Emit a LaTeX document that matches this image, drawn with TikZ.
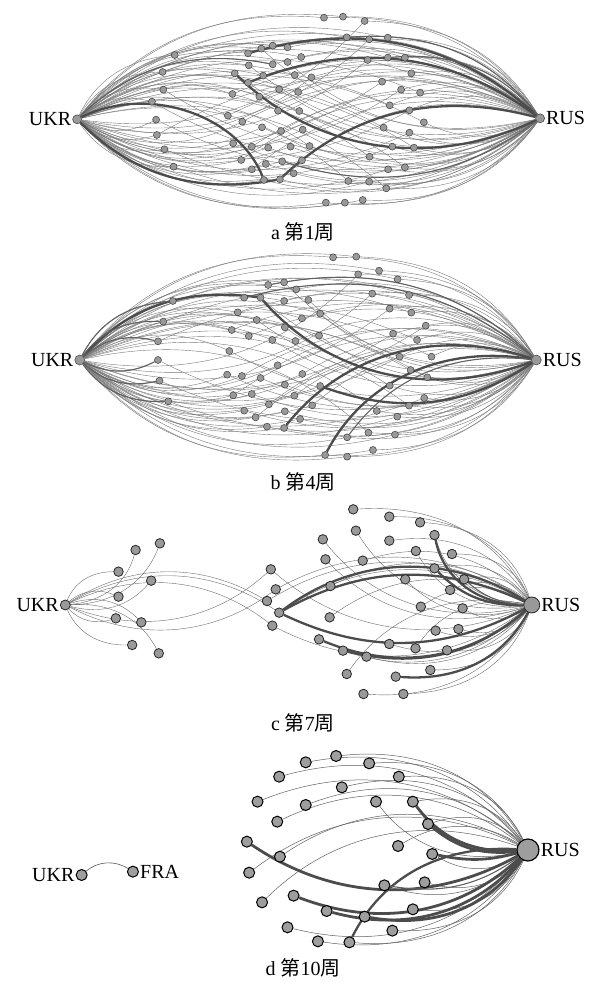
\documentclass[tikz,border=0pt]{standalone}
\usepackage{fontspec}
\setmainfont{Liberation Serif}
\newfontfamily\cjk{Noto Sans CJK SC}
\usetikzlibrary{backgrounds}
\tikzset{
  nd/.style={circle,draw=black!75,fill=black!40,line width=0.5pt,inner sep=0pt,minimum size=#1},
  nd/.default=7pt,
  ndc/.style={circle,draw=black!85,fill=black!40,line width=0.8pt,inner sep=0pt,minimum size=#1},
  ndc/.default=9.5pt,
  ndd/.style={circle,draw=black,fill=black!38,line width=1pt,inner sep=0pt,minimum size=#1},
  ndd/.default=11pt,
  ed/.style={draw=black!52,line width=0.4pt},
  med/.style={draw=black!62,line width=1.1pt},
  ted/.style={draw=black!70,line width=2.3pt},
  lab/.style={font=\fontsize{20}{20}\selectfont,inner sep=1pt},
  captxt/.style={font=\fontsize{20}{20}\selectfont,inner sep=0pt},
}
\def\BA{30}
\def\LA{853/53/1/1,903/50/1/1,960/63/-1/1,913/112/1/1,972/118/-1/1,1021/113/1/1,653/160/1/1,688/146/1/-1,718/137/1/1,757/142/1/1,460/165/1/1,655/196/1/-1,718/193/1/1,757/186/1/-1,793/171/1/1,968/180/-1/1,1021/173/1/1,1066/173/1/1,428/216/1/1,618/220/1/-1,693/227/1/1,776/225/1/1,820/232/-1/1,1083/220/1/1,1006/245/-1/1,653/248/1/1,430/269/1/-1,612/282/1/1,735/268/1/-1,785/276/1/1,1056/269/-1/1,1106/278/1/1,683/290/1/1,400/305/1/-1,1026/316/1/1,1078/331/-1/1,732/332/1/1,788/333/1/-1,600/347/1/1,411/359/1/1,1116/367/-1/1,638/365/1/-1,690/382/1/1,740/393/1/-1,797/389/1/1,1010/383/-1/1,1078/398/1/1,413/405/1/-1,614/430/1/1,663/440/1/-1,706/443/1/1,765/440/1/1,815/438/-1/1,1033/440/1/1,1090/443/-1/1,433/448/1/1,973/470/-1/1,635/480/1/-1,743/484/1/1,795/481/1/-1,700/492/1/1,457/500/1/1,663/508/1/-1,1022/508/1/1,1066/502/-1/1,773/520/1/1,695/540/1/1,737/538/1/1,917/543/-1/1,972/545/1/1,1017/565/-1/1,858/608/1/1,908/608/1/1,955/600/1/1}
\def\LB{877/52/1/1,938/50/1/1,943/103/-1/1,998/92/1/1,1047/118/1/1,706/135/1/1,748/127/1/-1,780/148/1/1,980/161/-1/1,1077/165/1/1,455/183/1/1,643/173/1/1,686/173/1/-1,748/183/1/1,812/180/1/-1,626/217/1/1,1026/206/-1/1,1083/218/1/1,430/245/1/1,676/240/1/-1,795/235/1/1,843/221/1/-1,610/270/1/1,750/262/1/-1,1121/257/-1/1,655/288/1/1,717/300/1/-1,778/303/1/1,840/287/1/-1,1035/281/-1/1,1098/300/1/1,416/304/1/1,604/333/1/-1,1052/350/-1/1,1136/350/1/1,416/360/1/1,731/376/1/-1,1081/390/-1/1,598/404/1/1,637/408/1/-1,686/414/1/1,796/402/1/-1,1125/412/-1/1,420/422/1/1,750/434/1/1,843/438/1/1,1026/437/-1/1,614/466/1/-1,663/462/1/1,775/467/1/-1,1117/474/1/1,443/484/1/1,708/493/1/-1,750/514/1/1,822/496/1/-1,1077/497/-1/1,643/512/1/1,673/532/1/-1,790/537/1/1,992/513/-1/1,1046/530/1/1,703/560/1/1,748/564/1/1,914/592/1/1,970/578/-1/1,1040/584/1/1,856/645/1/1,914/650/1/1,982/630/1/1}
\def\LC{357/180/-1/0,421/160/-1/0,312/245/1/0,398/272/-1/0,312/320/1/0,305/385/1/0,372/397/-1/0,348/465/1/0,418/490/-1/0,713/238/-1/-1,726/298/-1/1,703/333/1/1,735/368/-1/-1,717/407/-1/1,930/58/0/1,1025/80/0/1,1106/97/0/1,937/122/0/-1,1144/135/0/-1,850/148/0/-1,1025/152/0/1,1095/183/0/-1,1190/192/0/1,857/208/0/-1,955/212/0/1,1144/235/0/1,1067/268/0/-1,1222/268/0/1,870/288/0/1,1185/300/0/1,1108/350/0/-1,1218/355/0/1,868/382/0/-1,1147/422/0/1,1207/417/0/1,840/448/0/1,1025/462/0/1,1094/475/0/-1,1177/481/0/1,903/482/0/1,965/500/0/1,1133/540/0/1,913/552/0/-1,1042/560/0/1,957/612/0/1,1062/612/0/1}
\def\LD{735/140/1,805/97/1,885/78/1,972/100/1,1050/140/1,678/215/1,730/275/1,805/225/1,900/172/1,990/215/-1,1087/215/1,1127/282/1,650/335/-1,737/380/-1,656/428/-1,1048/348/1,1138/372/1,1012/466/1,1118/457/1,690/517/-1,773/497/1,860/543/1,960/560/1,1087/538/1,757/592/1,837/634/1,920/637/1,1033/602/1}
\begin{document}
\begin{tikzpicture}[x=1pt,y=-1pt]
\useasboundingbox (0,0) rectangle (596,982);
% ---------------- panel a
\begin{scope}[xscale=0.3798,yscale=0.3333]
\node[nd=9pt] (aU) at (203,358) {};
\node[nd=9pt] (aR) at (1422,355) {};
\foreach \x/\y/\u/\r [count=\i] in \LA {\node[nd] (a\i) at (\x,\y) {};}
\begin{pgfonlayer}{background}
\foreach \x/\y/\u/\r [count=\i] in \LA {
  \pgfmathsetmacro\bu{(1-2*(\y<358))*\BA*\u}
  \pgfmathsetmacro\br{(2*(\y<358)-1)*\BA*\r}
  \ifnum\u=0 \else\draw[ed] (a\i) to[bend left=\bu] (aU);\fi
  \ifnum\r=0 \else\draw[ed] (a\i) to[bend left=\br] (aR);\fi
}
\draw[ted] (a67) to[bend left=-50] (aU);
\draw[ted] (a68) to[bend left=30] (aU);
\draw[ted] (a7) to[bend left=32] (aR);
\draw[ted] (a26) to[bend left=32] (aR);
\draw[ted] (a68) to[bend left=32] (aR);
\draw[ted] (a20) to[bend left=-38] (aR);
\draw[med] (a4) to[bend left=30] (aR);
\draw[med] (a17) to[bend left=30] (aR);
\draw[med] (a59) to[bend left=-30] (aR);
\draw[med] (a13) to[bend left=-30] (aU);
\end{pgfonlayer}
\node[lab,anchor=east] (aUl) at (aU.west) {UKR};
\node[lab,anchor=west] (aRl) at (aR.east) {RUS};
\end{scope}
\node[captxt] (capa) at (303,232) {a~{\cjk 第}1{\cjk 周}};
% ---------------- panel b
\begin{scope}[shift={(0,240)},xscale=0.3798,yscale=0.3333]
\node[nd=10pt] (bU) at (210,360) {};
\node[nd=10pt] (bR) at (1412,360) {};
\foreach \x/\y/\u/\r [count=\i] in \LB {\node[nd] (b\i) at (\x,\y) {};}
\begin{pgfonlayer}{background}
\foreach \x/\y/\u/\r [count=\i] in \LB {
  \pgfmathsetmacro\bu{(1-2*(\y<360))*\BA*\u}
  \pgfmathsetmacro\br{(2*(\y<360)-1)*\BA*\r}
  \ifnum\u=0 \else\draw[ed] (b\i) to[bend left=\bu] (bU);\fi
  \ifnum\r=0 \else\draw[ed] (b\i) to[bend left=\br] (bR);\fi
}
\draw[ted] (b13) to[bend left=-38] (bR);
\draw[ted] (b13) to[bend left=-30] (bU);
\draw[ted] (b63) to[bend left=38] (bR);
\draw[ted] (b67) to[bend left=38] (bR);
\draw[med] (b64) to[bend left=32] (bR);
\draw[ted] (b46) to[bend left=-30] (bR);
\draw[med] (b11) to[bend left=-30] (bU);
\draw[med] (b19) to[bend left=-30] (bU);
\draw[med] (b32) to[bend left=-30] (bU);
\draw[med] (b44) to[bend left=30] (bU);
\draw[med] (b52) to[bend left=30] (bU);
\draw[med] (b36) to[bend left=30] (bU);
\draw[med] (b12) to[bend left=30] (bR);
\draw[med] (b6) to[bend left=30] (bR);
\end{pgfonlayer}
\node[lab,anchor=east] (bUl) at (bU.west) {UKR};
\node[lab,anchor=west] (bRl) at (bR.east) {RUS};
\end{scope}
\node[captxt] (capb) at (303,482) {b~{\cjk 第}4{\cjk 周}};
% ---------------- panel c
\begin{scope}[shift={(0,490)},xscale=0.3798,yscale=0.3333]
\node[ndc=10pt] (cU) at (172,345) {};
\node[ndc=16pt] (cR) at (1400,345) {};
\foreach \x/\y/\u/\r [count=\i] in \LC {\node[ndc] (c\i) at (\x,\y) {};}
\begin{pgfonlayer}{background}
\foreach \x/\y/\u/\r [count=\i] in \LC {
  \pgfmathsetmacro\bu{(1-2*(\y<345))*35*\u}
  \pgfmathsetmacro\br{(2*(\y<345)-1)*35*\r}
  \ifnum\u=0 \else\draw[ed,draw=black!58] (c\i) to[bend left=\bu] (cU);\fi
  \ifnum\r=0 \else\draw[ed,draw=black!58] (c\i) to[bend left=\br] (cR);\fi
}
\draw[ted] (c19) to[bend left=-40] (cR);
\draw[ted] (c26) to[bend left=-25] (cR);
\draw[ted] (c13) to[bend left=30] (cR);
\draw[ted] (c13) to[bend left=38] (cR);
\draw[ted] (c13) to[bend left=-30] (cR);
\draw[ted] (c36) to[bend left=-35] (cR);
\draw[ted] (c40) to[bend left=-30] (cR);
\draw[ted] (c44) to[bend left=-35] (cR);
\draw[med] (c28) to[bend left=-20] (cR);
\end{pgfonlayer}
\node[lab,anchor=east] (cUl) at (cU.west) {UKR};
\node[lab,anchor=west] (cRl) at (cR.east) {RUS};
\end{scope}
\node[captxt] (capc) at (303,723) {c~{\cjk 第}7{\cjk 周}};
% ---------------- panel d
\begin{scope}[shift={(0,730)},xscale=0.3798,yscale=0.3333]
\node[ndd=22pt,line width=1.2pt] (dR) at (1390,360) {};
\node[ndd] (dU) at (215,435) {};
\node[ndd] (dF) at (350,425) {};
\foreach \x/\y/\r [count=\i] in \LD {\node[ndd] (d\i) at (\x,\y) {};}
\begin{pgfonlayer}{background}
\draw[ed,draw=black!65,line width=0.6pt] (dU) to[bend left=40] (dF);
\foreach \x/\y/\r [count=\i] in \LD {
  \pgfmathsetmacro\br{(2*(\y<360)-1)*35*\r}
  \draw[ed,draw=black!62,line width=0.5pt] (d\i) to[bend left=\br] (dR);
}
\draw[ted,line width=2.8pt] (d13) to[bend left=-35] (dR);
\draw[ted,line width=2.8pt] (d11) to[bend left=-30] (dR);
\draw[ted,line width=2.8pt] (d12) to[bend left=-25] (dR);
\draw[ted,line width=2.8pt] (d17) to[bend left=-15] (dR);
\draw[ted,line width=2.8pt] (d21) to[bend left=-35] (dR);
\draw[ted,line width=2.8pt] (d22) to[bend left=-35] (dR);
\draw[ted,line width=2.8pt] (d23) to[bend left=-35] (dR);
\draw[ted] (d27) to[bend left=35] (dR);
\draw[med] (d18) to[bend left=-25] (dR);
\end{pgfonlayer}
\node[lab,anchor=east] (dUl) at (dU.west) {UKR};
\node[lab,anchor=west] (dFl) at (dF.east) {FRA};
\node[lab,anchor=west] (dRl) at (dR.east) {RUS};
\end{scope}
\node[captxt] (capd) at (303,968) {d~{\cjk 第}10{\cjk 周}};
\end{tikzpicture}
\end{document}
